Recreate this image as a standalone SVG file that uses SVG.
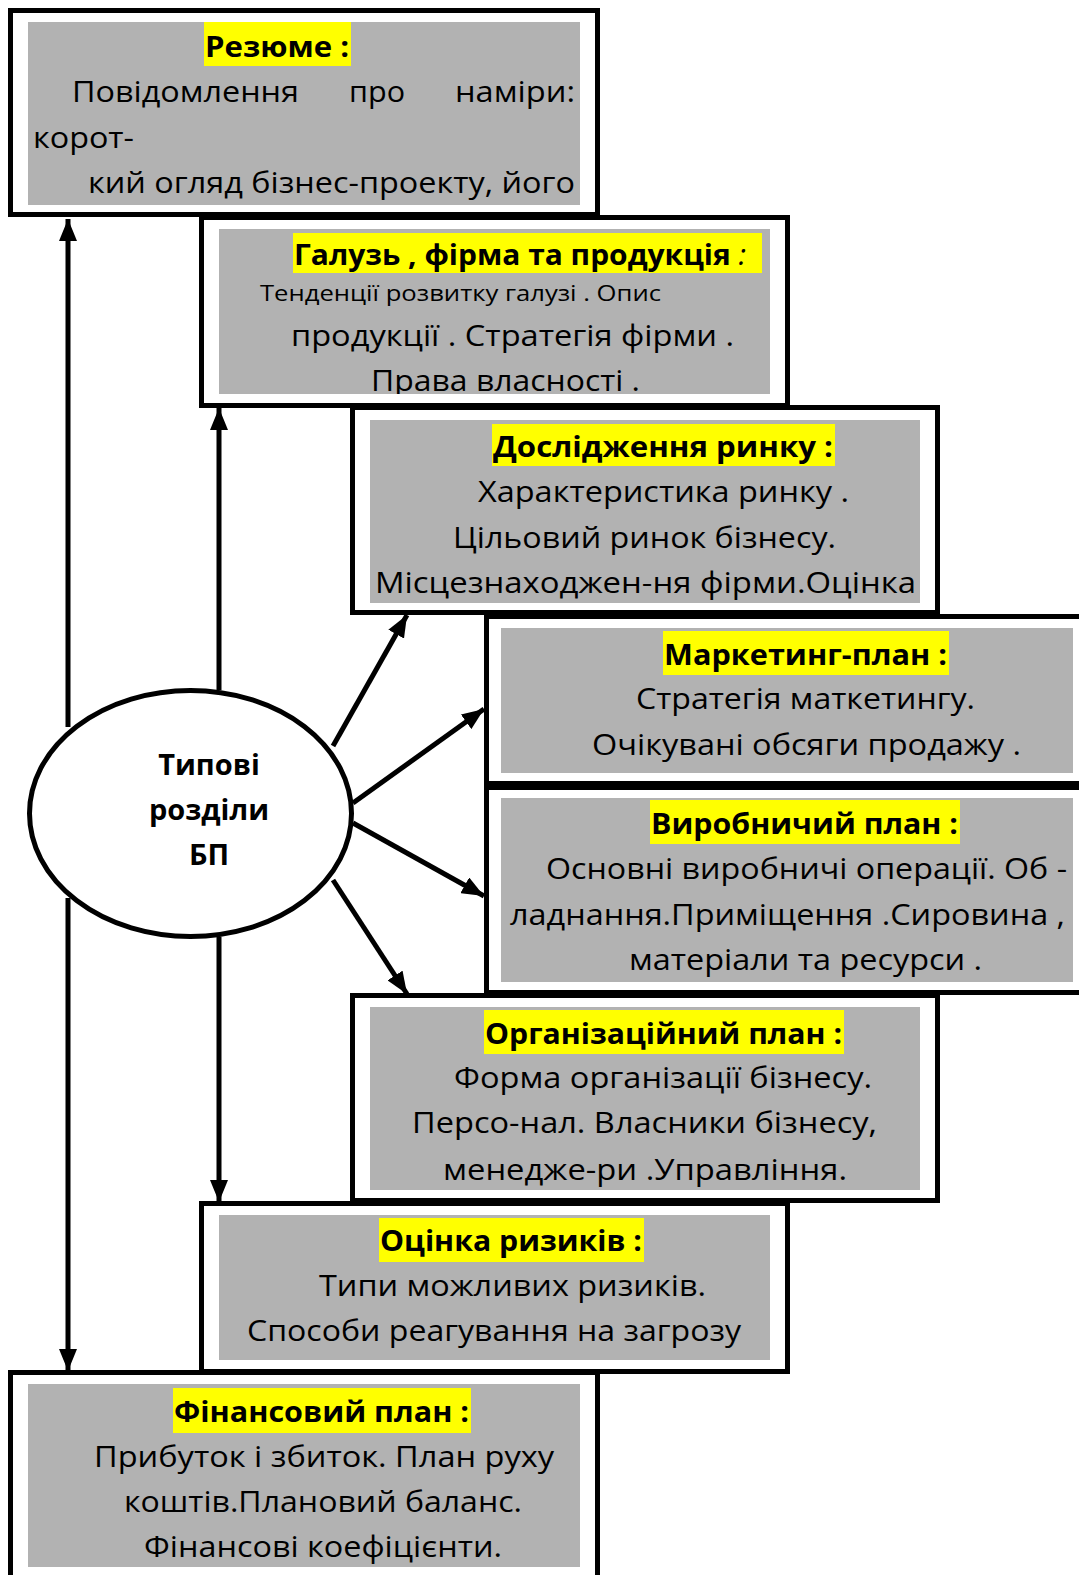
<svg xmlns="http://www.w3.org/2000/svg" width="1079" height="1575" viewBox="0 0 1079 1575">
<style>
.frame{fill:#fff;stroke:#000;stroke-width:5}
.bg{fill:#b2b2b2}
.hl{fill:#ffff00}
.t{font-family:"Open Sans","Noto Sans","DejaVu Sans",sans-serif;font-size:29px;fill:#000}
.b{font-weight:bold}
.line{stroke:#000;stroke-width:5;fill:none}
</style>
<defs>
<marker id="ah" markerUnits="userSpaceOnUse" markerWidth="24" markerHeight="18" refX="22" refY="9" orient="auto">
<path d="M0,0 L22,9 L0,18 Z" fill="#000"/>
</marker>
<clipPath id="c2"><rect x="219" y="229" width="551" height="165"/></clipPath>
</defs>
<rect width="1079" height="1575" fill="#fff"/>

<g id="n1">
<rect class="frame" x="10.5" y="10.5" width="587" height="204"/>
<rect class="bg" x="28" y="22" width="552" height="183"/>
<rect class="hl" x="204" y="22" width="147" height="44"/>
<text class="t b" x="205" y="57" textLength="144" lengthAdjust="spacingAndGlyphs">Резюме :</text>
<text class="t" x="72" y="102" textLength="227" lengthAdjust="spacingAndGlyphs">Повідомлення</text>
<text class="t" x="349" y="102" textLength="56" lengthAdjust="spacingAndGlyphs">про</text>
<text class="t" x="455" y="102" textLength="120" lengthAdjust="spacingAndGlyphs">наміри:</text>
<text class="t" x="33" y="148" textLength="101" lengthAdjust="spacingAndGlyphs">корот-</text>
<text class="t" x="88" y="193" textLength="487" lengthAdjust="spacingAndGlyphs">кий огляд бізнес-проекту, його</text>
</g>

<g id="n2">
<rect class="frame" x="201.5" y="217.5" width="586" height="188"/>
<rect class="bg" x="219" y="229" width="551" height="165"/>
<rect class="hl" x="293" y="233" width="469" height="40"/>
<text class="t b" x="294" y="265" textLength="452" lengthAdjust="spacingAndGlyphs">Галузь , фірма та продукція <tspan font-weight="normal" font-style="italic">:</tspan></text>
<text class="t" style="font-size:22px" x="260" y="301" textLength="401" lengthAdjust="spacingAndGlyphs">Тенденції розвитку галузі . Опис</text>
<text class="t" x="291" y="346" textLength="443" lengthAdjust="spacingAndGlyphs">продукції . Стратегія фірми .</text>
<text class="t" clip-path="url(#c2)" x="371" y="391" textLength="269" lengthAdjust="spacingAndGlyphs">Права власності .</text>
</g>

<g id="n3">
<rect class="frame" x="352.5" y="407.5" width="585" height="205"/>
<rect class="bg" x="370" y="420" width="550" height="183"/>
<rect class="hl" x="492" y="424" width="343" height="42"/>
<text class="t b" x="493" y="457" textLength="340" lengthAdjust="spacingAndGlyphs">Дослідження ринку :</text>
<text class="t" x="478" y="502" textLength="371" lengthAdjust="spacingAndGlyphs">Характеристика ринку .</text>
<text class="t" x="453" y="548" textLength="383" lengthAdjust="spacingAndGlyphs">Цільовий ринок бізнесу.</text>
<text class="t" x="375" y="593" textLength="541" lengthAdjust="spacingAndGlyphs">Місцезнаходжен-ня фірми.Оцінка</text>
</g>

<g id="n4">
<rect class="frame" x="486.5" y="616.5" width="600" height="167"/>
<rect class="bg" x="501" y="628" width="572" height="145"/>
<rect class="hl" x="663" y="631" width="286" height="44"/>
<text class="t b" x="664" y="665" textLength="283" lengthAdjust="spacingAndGlyphs">Маркетинг-план :</text>
<text class="t" x="636" y="709" textLength="339" lengthAdjust="spacingAndGlyphs">Стратегія маткетингу.</text>
<text class="t" x="592" y="755" textLength="429" lengthAdjust="spacingAndGlyphs">Очікувані обсяги продажу .</text>
</g>

<g id="n5">
<rect class="frame" x="486.5" y="787.5" width="600" height="205"/>
<rect class="bg" x="501" y="798" width="572" height="184"/>
<rect class="hl" x="650" y="800" width="310" height="44"/>
<text class="t b" x="651" y="834" textLength="307" lengthAdjust="spacingAndGlyphs">Виробничий план :</text>
<text class="t" x="546" y="879" textLength="521" lengthAdjust="spacingAndGlyphs">Основні виробничі операції. Об -</text>
<text class="t" x="510" y="925" textLength="555" lengthAdjust="spacingAndGlyphs">ладнання.Приміщення .Сировина ,</text>
<text class="t" x="629" y="970" textLength="353" lengthAdjust="spacingAndGlyphs">матеріали та ресурси .</text>
</g>

<g id="n6">
<rect class="frame" x="352.5" y="995.5" width="585" height="205"/>
<rect class="bg" x="370" y="1007" width="550" height="183"/>
<rect class="hl" x="484" y="1010" width="360" height="44"/>
<text class="t b" x="485" y="1044" textLength="357" lengthAdjust="spacingAndGlyphs">Організаційний план :</text>
<text class="t" x="454" y="1088" textLength="418" lengthAdjust="spacingAndGlyphs">Форма організації бізнесу.</text>
<text class="t" x="412" y="1133" textLength="465" lengthAdjust="spacingAndGlyphs">Персо-нал. Власники бізнесу,</text>
<text class="t" x="443" y="1180" textLength="404" lengthAdjust="spacingAndGlyphs">менедже-ри .Управління.</text>
</g>

<g id="n7">
<rect class="frame" x="201.5" y="1203.5" width="586" height="168"/>
<rect class="bg" x="219" y="1215" width="551" height="145"/>
<rect class="hl" x="379" y="1218" width="265" height="44"/>
<text class="t b" x="380" y="1251" textLength="262" lengthAdjust="spacingAndGlyphs">Оцінка ризиків :</text>
<text class="t" x="319" y="1296" textLength="387" lengthAdjust="spacingAndGlyphs">Типи можливих ризиків.</text>
<text class="t" x="247" y="1341" textLength="494" lengthAdjust="spacingAndGlyphs">Способи реагування на загрозу</text>
</g>

<g id="n8">
<rect class="frame" x="10.5" y="1372.5" width="587" height="215"/>
<rect class="bg" x="28" y="1384" width="552" height="183"/>
<rect class="hl" x="173" y="1388" width="298" height="45"/>
<text class="t b" x="174" y="1422" textLength="295" lengthAdjust="spacingAndGlyphs">Фінансовий план :</text>
<text class="t" x="94" y="1467" textLength="460" lengthAdjust="spacingAndGlyphs">Прибуток і збиток. План руху</text>
<text class="t" x="124" y="1512" textLength="398" lengthAdjust="spacingAndGlyphs">коштів.Плановий баланс.</text>
<text class="t" x="144" y="1557" textLength="358" lengthAdjust="spacingAndGlyphs">Фінансові коефіцієнти.</text>
</g>

<g id="center">
<ellipse cx="190.5" cy="813.5" rx="161" ry="123" fill="#fff" stroke="#000" stroke-width="5"/>
<text class="t b" x="209" y="775" text-anchor="middle">Типові</text>
<text class="t b" x="209" y="820" text-anchor="middle">розділи</text>
<text class="t b" x="209" y="865" text-anchor="middle">БП</text>
</g>

<g id="connectors">
<line class="line" x1="68" y1="727" x2="68" y2="219" marker-end="url(#ah)"/>
<line class="line" x1="68" y1="898" x2="68" y2="1371" marker-end="url(#ah)"/>
<line class="line" x1="219" y1="690" x2="219" y2="408" marker-end="url(#ah)"/>
<line class="line" x1="219" y1="937" x2="219" y2="1202" marker-end="url(#ah)"/>
<line class="line" x1="333" y1="746" x2="407" y2="615" marker-end="url(#ah)"/>
<line class="line" x1="353" y1="803" x2="484" y2="709" marker-end="url(#ah)"/>
<line class="line" x1="353" y1="823" x2="484" y2="896" marker-end="url(#ah)"/>
<line class="line" x1="333" y1="880" x2="407" y2="994" marker-end="url(#ah)"/>
</g>
</svg>
